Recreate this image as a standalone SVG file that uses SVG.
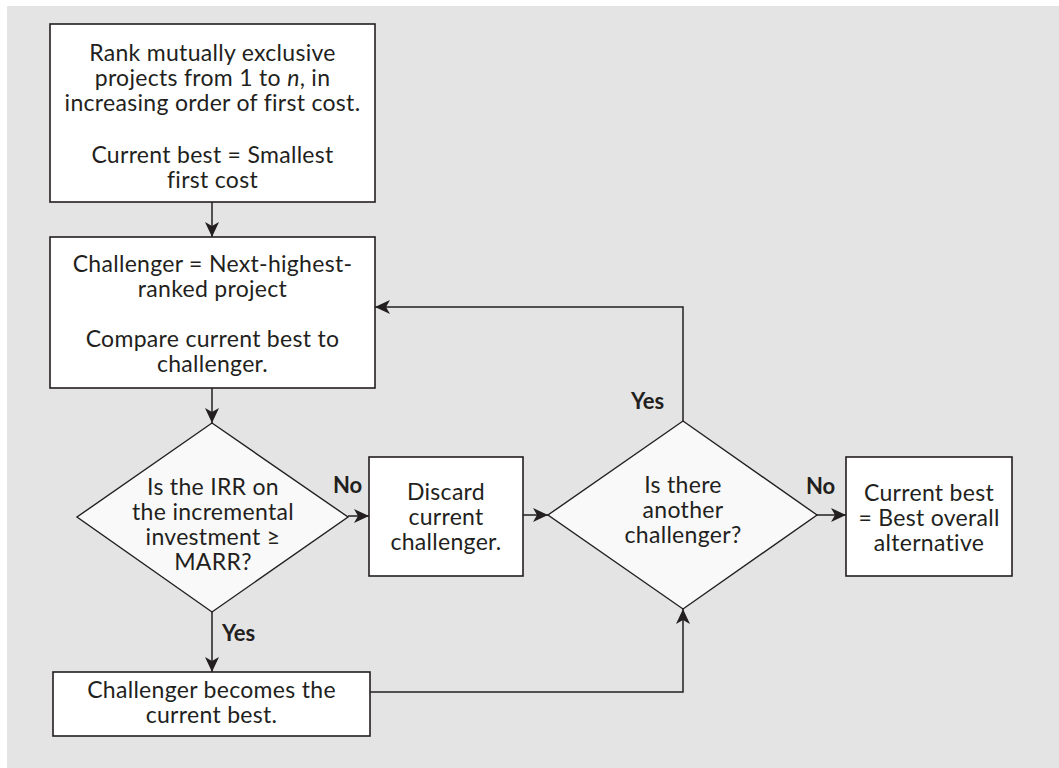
<svg xmlns="http://www.w3.org/2000/svg" width="1059" height="768" viewBox="0 0 1059 768">
<style>
.bg{fill:#e4e4e4}
.box{fill:#ffffff;stroke:#231f20;stroke-width:1.6}
.dia{fill:#f9f9f9;stroke:#231f20;stroke-width:1.4}
.t{font-family:Lato,"Open Sans",sans-serif;font-size:23px;letter-spacing:0.3px;fill:#231f20;text-anchor:middle}
.lbl{font-family:Lato,"Liberation Sans",sans-serif;font-size:22px;font-weight:bold;fill:#231f20}
.c{fill:none;stroke:#231f20;stroke-width:1.5}
</style>
<defs>
<marker id="ah" markerUnits="userSpaceOnUse" markerWidth="16" markerHeight="14" refX="15" refY="7" orient="auto">
<path d="M0,0 L15,7 L0,14 L4,7 z" fill="#231f20"/>
</marker>
</defs>
<rect class="bg" x="7" y="6" width="1052" height="762"/>

<g id="connectors">
<path class="c" d="M212,202 V237" marker-end="url(#ah)"/>
<path class="c" d="M212,388 V423" marker-end="url(#ah)"/>
<path class="c" d="M348,516 H369" marker-end="url(#ah)"/>
<path class="c" d="M212,612 V672" marker-end="url(#ah)"/>
<path class="c" d="M523,515 H548" marker-end="url(#ah)"/>
<path class="c" d="M683,421 V307 H375" marker-end="url(#ah)"/>
<path class="c" d="M817,515 H846" marker-end="url(#ah)"/>
<path class="c" d="M370,692 H683 V609" marker-end="url(#ah)"/>
<text class="lbl" x="333" y="493">No</text>
<text class="lbl" x="222" y="641">Yes</text>
<text class="lbl" x="631" y="409">Yes</text>
<text class="lbl" x="806" y="494">No</text>
</g>

<g id="rank">
<rect class="box" x="50" y="24" width="325" height="178"/>
<text class="t" x="212.5" y="61">Rank mutually exclusive</text>
<text class="t" x="212.5" y="86">projects from 1 to <tspan font-style="italic">n</tspan>, in</text>
<text class="t" x="212.5" y="111">increasing order of first cost.</text>
<text class="t" x="212.5" y="163">Current best = Smallest</text>
<text class="t" x="212.5" y="188">first cost</text>
</g>

<g id="challenger">
<rect class="box" x="50" y="237" width="325" height="151"/>
<text class="t" x="212.5" y="272">Challenger = Next-highest-</text>
<text class="t" x="212.5" y="297">ranked project</text>
<text class="t" x="212.5" y="347">Compare current best to</text>
<text class="t" x="212.5" y="372">challenger.</text>
</g>

<g id="irr">
<polygon class="dia" points="212,423 348,517 212,612 77,517"/>
<text class="t" x="213" y="495">Is the IRR on</text>
<text class="t" x="213" y="520">the incremental</text>
<text class="t" x="213" y="545">investment ≥</text>
<text class="t" x="213" y="570">MARR?</text>
</g>

<g id="discard">
<rect class="box" x="369" y="457" width="154" height="119"/>
<text class="t" x="446" y="500">Discard</text>
<text class="t" x="446" y="525">current</text>
<text class="t" x="446" y="550">challenger.</text>
</g>

<g id="another">
<polygon class="dia" points="683,421 817,515 683,609 548,515"/>
<text class="t" x="683" y="493">Is there</text>
<text class="t" x="683" y="518">another</text>
<text class="t" x="683" y="543">challenger?</text>
</g>

<g id="final">
<rect class="box" x="846" y="457" width="166" height="119"/>
<text class="t" x="929" y="501">Current best</text>
<text class="t" x="929" y="526">= Best overall</text>
<text class="t" x="929" y="551">alternative</text>
</g>

<g id="becomes">
<rect class="box" x="53" y="672" width="317" height="64"/>
<text class="t" x="211.5" y="698">Challenger becomes the</text>
<text class="t" x="211.5" y="723">current best.</text>
</g>
</svg>
